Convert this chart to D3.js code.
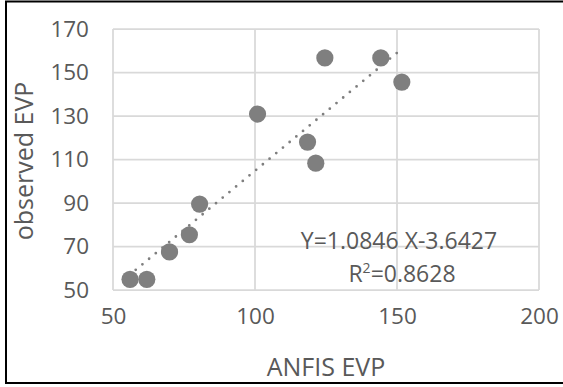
<!DOCTYPE html>
<html>
<head>
<meta charset="utf-8">
<script src="https://cdn.jsdelivr.net/npm/d3@7"></script>
<style>
  html, body { margin: 0; padding: 0; background: #fff; }
  svg { display: block; }
  text { font-family: "Open Sans", "Liberation Sans", sans-serif; fill: #595959; }
</style>
</head>
<body>
<svg id="chart" width="563" height="387"></svg>
<script>
// ---- data ----
const anfisEVP    = [56.0, 61.9, 69.9, 76.9, 80.5, 100.9, 118.5, 121.4, 124.6, 144.3, 151.7];
const observedEVP = [54.9, 54.9, 67.5, 75.4, 89.5, 130.9, 118.0, 108.3, 156.7, 156.7, 145.6];
const xTicks = [50, 100, 150, 200];
const yTicks = [50, 70, 90, 110, 130, 150, 170];
const trendSlope = 1.0846;
const trendIntercept = -3.6427;
const equationLabel = "Y=1.0846 X-3.6427";
const r2Value = "=0.8628";
const xTitle = "ANFIS EVP";
const yTitle = "observed EVP";

const svg = d3.select("#chart");
const W = 563, H = 387;
const plot = { left: 113, right: 539, top: 29, bottom: 290 };

const x = d3.scaleLinear().domain([50, 200]).range([plot.left, plot.right]);
const y = d3.scaleLinear().domain([50, 170]).range([plot.bottom, plot.top]);

// outer frame
svg.append("rect")
  .attr("x", 6).attr("y", 1.5).attr("width", W + 10).attr("height", 381.5)
  .attr("fill", "none").attr("stroke", "#000").attr("stroke-width", 2);

const grid = svg.append("g");
// vertical gridlines
grid.selectAll("line.vx").data(xTicks).join("line")
  .attr("x1", d => x(d)).attr("x2", d => x(d))
  .attr("y1", plot.top).attr("y2", plot.bottom)
  .attr("stroke", "#d9d9d9").attr("stroke-width", 1.75);
// horizontal gridlines
grid.selectAll("line.hy").data(yTicks).join("line")
  .attr("x1", plot.left).attr("x2", plot.right)
  .attr("y1", d => y(d)).attr("y2", d => y(d))
  .attr("stroke", "#d9d9d9").attr("stroke-width", 1.75);

// axes via d3 axis generators (labels only, no domain/ticks)
const xAxis = svg.append("g")
  .attr("transform", `translate(0,${plot.bottom})`)
  .call(d3.axisBottom(x).tickValues(xTicks).tickSize(0).tickPadding(18).tickFormat(d3.format("d")));
xAxis.select(".domain").remove();
xAxis.selectAll("text")
  .attr("font-family", "Open Sans, Liberation Sans, sans-serif")
  .attr("font-size", 22.5).attr("fill", "#595959");

const yAxis = svg.append("g")
  .attr("transform", `translate(${plot.left},0)`)
  .call(d3.axisLeft(y).tickValues(yTicks).tickSize(0).tickPadding(24).tickFormat(d3.format("d")));
yAxis.select(".domain").remove();
yAxis.selectAll("text")
  .attr("font-family", "Open Sans, Liberation Sans, sans-serif")
  .attr("font-size", 22.5).attr("fill", "#595959");

// trendline (dotted)
const xr = d3.extent(anfisEVP);
svg.append("line")
  .attr("x1", x(xr[0] + 2)).attr("y1", y(trendSlope * (xr[0] + 2) + trendIntercept))
  .attr("x2", x(xr[1])).attr("y2", y(trendSlope * xr[1] + trendIntercept))
  .attr("stroke", "#7f7f7f").attr("stroke-width", 2.8)
  .attr("stroke-linecap", "round").attr("stroke-dasharray", "0 8.7");

// points
svg.append("g").selectAll("circle")
  .data(anfisEVP.map((v, i) => [v, observedEVP[i]]))
  .join("circle")
  .attr("cx", d => x(d[0])).attr("cy", d => y(d[1]))
  .attr("r", 8.6).attr("fill", "#7f7f7f");

// equation text
svg.append("text")
  .attr("x", 399).attr("y", 249)
  .attr("text-anchor", "middle").attr("font-size", 23)
  .text(equationLabel);
const r2 = svg.append("text")
  .attr("x", 402).attr("y", 282)
  .attr("text-anchor", "middle").attr("font-size", 23);
r2.append("tspan").text("R");
r2.append("tspan").attr("dy", -9).attr("font-size", 14).text("2");
r2.append("tspan").attr("dy", 9).text(r2Value);

// axis titles
svg.append("text")
  .attr("x", (plot.left + plot.right) / 2).attr("y", 376)
  .attr("text-anchor", "middle").attr("font-size", 25)
  .text(xTitle);
svg.append("text")
  .attr("transform", `translate(33,161) rotate(-90)`)
  .attr("text-anchor", "middle").attr("font-size", 25)
  .text(yTitle);
</script>
</body>
</html>
